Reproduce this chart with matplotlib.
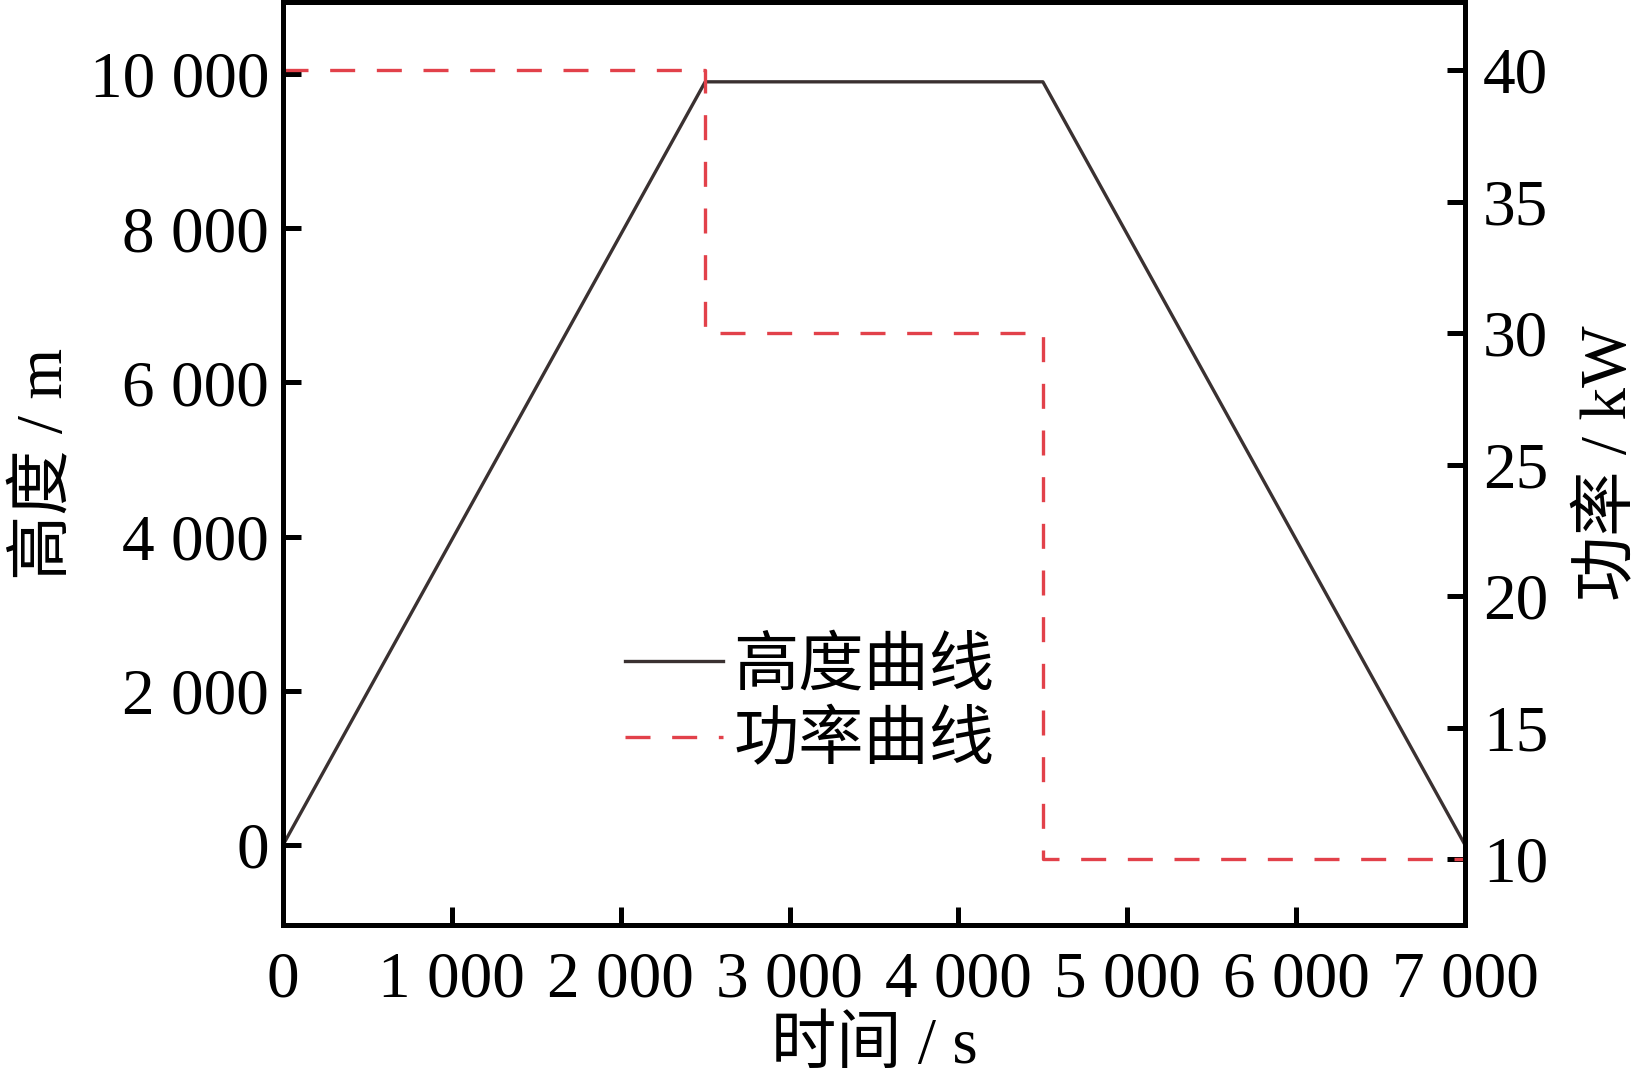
import matplotlib
matplotlib.use('Agg')
import matplotlib.pyplot as plt
from matplotlib.ticker import FuncFormatter

plt.rcParams['font.family'] = ['Liberation Serif', 'Noto Sans CJK SC']
plt.rcParams['font.size'] = 47

# flight profile
time_s = [0, 2500, 4500, 7000]
altitude_m = [0, 9900, 9900, 0]

# power demand (step)
power_t = [0, 2500, 4500, 7000]
power_kw = [40, 30, 10, 10]

x_ticks = [0, 1000, 2000, 3000, 4000, 5000, 6000, 7000]
alt_ticks = [0, 2000, 4000, 6000, 8000, 10000]
pow_ticks = [10, 15, 20, 25, 30, 35, 40]


def fmt_thousands(v, pos):
    v = int(round(v))
    if v >= 1000:
        return '%d %03d' % (v // 1000, v % 1000)
    return str(v)


fig = plt.figure(figsize=(16.4, 10.8), dpi=100)
ax = fig.add_axes([0.1726, 0.1435, 0.7207, 0.8546])
ax2 = ax.twinx()

l1, = ax.plot(time_s, altitude_m, color='#3a3131', lw=2.4, label='高度曲线', zorder=3)
l2, = ax2.plot(power_t, power_kw, color='#e2414a', lw=2.4, ls=(0, (7.5, 6.5)),
               drawstyle='steps-post', label='功率曲线')

ax.set_xlim(0, 7000)
ax.set_ylim(-1040, 10935)
ax2.set_ylim(7.49, 42.59)

ax.set_xticks(x_ticks)
ax.set_yticks(alt_ticks)
ax2.set_yticks(pow_ticks)
ax.xaxis.set_major_formatter(FuncFormatter(fmt_thousands))
ax.yaxis.set_major_formatter(FuncFormatter(fmt_thousands))

for a in (ax, ax2):
    for s in a.spines.values():
        s.set_linewidth(3.6)
ax.tick_params(axis='both', direction='in', length=13, width=3.6, labelsize=47)
ax.tick_params(axis='x', pad=19)
ax.tick_params(axis='y', pad=10)
ax2.tick_params(axis='y', direction='in', length=13, width=3.6, labelsize=47, pad=13)

ax.set_xlabel('时间 / s', fontsize=47, labelpad=5)
ax.set_ylabel('高度 / m', fontsize=47, labelpad=10)
ax2.set_ylabel('功率 / kW', fontsize=47, labelpad=22)

ax.legend([l1, l2], ['高度曲线', '功率曲线'], loc='center left',
          bbox_to_anchor=(0.262, 0.238), frameon=False, fontsize=47,
          handlelength=1.5, handletextpad=0.15, labelspacing=0.22, borderpad=0)

fig.savefig('out.png', dpi=100)
